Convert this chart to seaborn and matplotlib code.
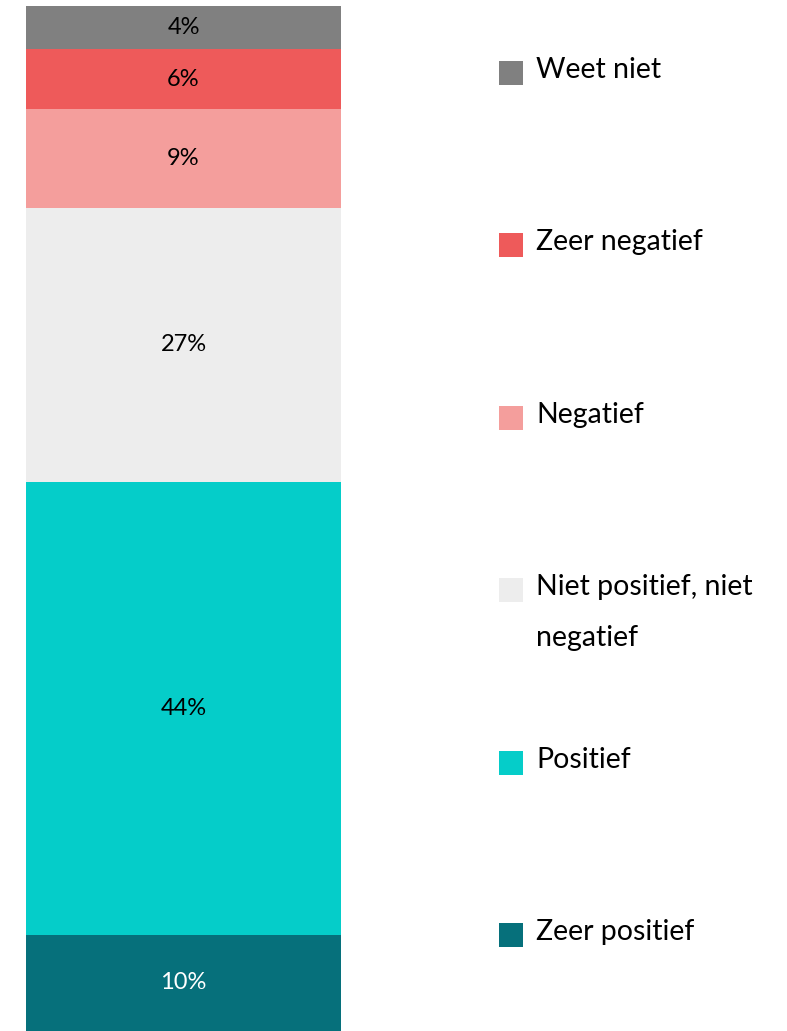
import seaborn as sns
import matplotlib.pyplot as plt
import numpy as np

sns.set_theme(style="white")
plt.rcParams['font.family'] = ['Lato', 'DejaVu Sans']

# bottom to top
categories = ['Zeer positief', 'Positief', 'Niet positief, niet negatief',
              'Negatief', 'Zeer negatief', 'Weet niet']
shares = [9.4, 44.2, 26.8, 9.6, 5.9, 4.2]
value_labels = ['10%', '44%', '27%', '9%', '6%', '4%']
colors = ['#06707b', '#05cdc9', '#ededed', '#f49e9c', '#ee5a5a', '#808080']
label_colors = ['white', 'black', 'black', 'black', 'black', 'black']
legend_labels = ['Zeer positief', 'Positief', 'Niet positief, niet\nnegatief',
                 'Negatief', 'Zeer negatief', 'Weet niet']

W, H = 787, 1031
fig = plt.figure(figsize=(W / 100, H / 100), dpi=100)

ax = fig.add_axes([26 / W, 0, 315 / W, (H - 6) / H])
tops = np.cumsum(shares)
# stacked bar: draw cumulative totals, tallest first
for i in reversed(range(len(shares))):
    sns.barplot(x=[0], y=[tops[i]], color=colors[i], saturation=1,
                width=1, ax=ax, linewidth=0)
for i in range(len(shares)):
    ax.text(0, tops[i] - shares[i] / 2, value_labels[i], ha='center',
            va='center', fontsize=17, color=label_colors[i])
ax.set_xlim(-0.5, 0.5)
ax.set_ylim(0, tops[-1])
ax.axis('off')

# legend, top to bottom
lax = fig.add_axes([0, 0, 1, 1])
lax.set_xlim(0, W)
lax.set_ylim(H, 0)
lax.axis('off')
y0, step = 73, 172.4
for k, i in enumerate(reversed(range(len(categories)))):
    yc = y0 + k * step
    lax.add_patch(plt.Rectangle((499, yc - 12), 24, 24, color=colors[i], lw=0))
    for j, line in enumerate(legend_labels[i].split('\n')):
        lax.text(536, yc + 5 + j * 51, line, ha='left', va='baseline',
                 fontsize=20.5, color='black')

fig.savefig('out.png', dpi=100)
